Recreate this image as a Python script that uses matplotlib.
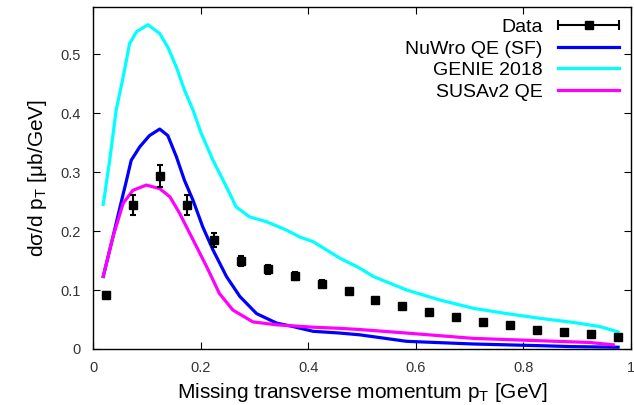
import matplotlib
matplotlib.use("Agg")
import matplotlib.pyplot as plt
from matplotlib.lines import Line2D
from matplotlib.legend_handler import HandlerLine2D, HandlerTuple

plt.rcParams["font.family"] = ["Liberation Sans", "DejaVu Sans"]
plt.rcParams["mathtext.fontset"] = "custom"
plt.rcParams["mathtext.rm"] = "Liberation Sans"
plt.rcParams["mathtext.it"] = "Liberation Sans"

# Measured data (bin centres, cross section, error)
data_x = [0.025, 0.075, 0.125, 0.175, 0.225, 0.275, 0.325, 0.375, 0.425, 0.475,
          0.525, 0.575, 0.625, 0.675, 0.725, 0.775, 0.825, 0.875, 0.925, 0.975]
data_y = [0.092, 0.245, 0.293, 0.245, 0.185, 0.149, 0.135, 0.124, 0.111, 0.098,
          0.083, 0.073, 0.063, 0.054, 0.045, 0.040, 0.033, 0.029, 0.025, 0.021]
data_err = [0.005, 0.017, 0.019, 0.017, 0.012, 0.009, 0.008, 0.007, 0.006, 0.005,
            0.004, 0.004, 0.003, 0.003, 0.003, 0.003, 0.002, 0.002, 0.002, 0.002]

# NuWro QE (SF)
nuwro_x = [0.019, 0.037, 0.050, 0.062, 0.071, 0.087, 0.105, 0.124, 0.139, 0.155,
           0.170, 0.186, 0.204, 0.223, 0.248, 0.273, 0.304, 0.341, 0.372, 0.409,
           0.459, 0.496, 0.583, 0.706, 0.831, 0.892, 0.976]
nuwro_y = [0.123, 0.190, 0.240, 0.285, 0.320, 0.343, 0.362, 0.373, 0.362, 0.326,
           0.286, 0.252, 0.207, 0.168, 0.123, 0.089, 0.060, 0.044, 0.038, 0.030,
           0.027, 0.024, 0.013, 0.0085, 0.0056, 0.004, 0.003]

# GENIE 2018
genie_x = [0.019, 0.031, 0.043, 0.056, 0.068, 0.081, 0.102, 0.124, 0.139, 0.155,
           0.170, 0.186, 0.201, 0.223, 0.248, 0.266, 0.291, 0.322, 0.359, 0.384,
           0.409, 0.459, 0.496, 0.521, 0.583, 0.645, 0.707, 0.769, 0.831, 0.893,
           0.942, 0.976]
genie_y = [0.245, 0.320, 0.405, 0.461, 0.518, 0.538, 0.550, 0.535, 0.512, 0.478,
           0.439, 0.405, 0.366, 0.320, 0.275, 0.241, 0.224, 0.216, 0.202, 0.190,
           0.182, 0.154, 0.137, 0.123, 0.100, 0.083, 0.069, 0.060, 0.052, 0.045,
           0.038, 0.029]

# SUSAv2 QE
susa_x = [0.019, 0.037, 0.056, 0.074, 0.099, 0.124, 0.143, 0.161, 0.186, 0.211,
          0.235, 0.260, 0.297, 0.341, 0.409, 0.459, 0.496, 0.583, 0.707, 0.831,
          0.924, 0.967]
susa_y = [0.123, 0.190, 0.247, 0.269, 0.278, 0.272, 0.258, 0.230, 0.185, 0.140,
          0.094, 0.066, 0.046, 0.041, 0.037, 0.035, 0.033, 0.027, 0.018, 0.014,
          0.011, 0.007]

xticks = [0, 0.2, 0.4, 0.6, 0.8, 1]
xtick_labels = ["0", "0.2", "0.4", "0.6", "0.8", "1"]
yticks = [0, 0.1, 0.2, 0.3, 0.4, 0.5]
ytick_labels = ["0", "0.1", "0.2", "0.3", "0.4", "0.5"]

fig = plt.figure(figsize=(6.34, 4.05), dpi=100)
ax = fig.add_axes([0.1467, 0.1383, 0.8486, 0.8444])

lw = 2.3
ax.plot(nuwro_x, nuwro_y, color="#0000ff", lw=lw)
ax.plot(genie_x, genie_y, color="#00ffff", lw=lw)
ax.plot(susa_x, susa_y, color="#ff00ff", lw=lw)
ax.errorbar(data_x, data_y, yerr=data_err, fmt="s", color="black", ms=5.5,
            elinewidth=1.5, capsize=2.5, capthick=1.5, zorder=5)

ax.set_xlim(0, 1)
ax.set_ylim(0, 0.58)
ax.set_xticks(xticks)
ax.set_xticklabels(xtick_labels)
ax.set_yticks(yticks)
ax.set_yticklabels(ytick_labels)
ax.tick_params(direction="in", top=True, right=True, length=5, width=0.8,
               labelsize=10.5, labelcolor="#333333", pad=9)
for spine in ax.spines.values():
    spine.set_linewidth(1.0)

ax.set_xlabel("Missing transverse momentum p$_\\mathrm{T}$ [GeV]", fontsize=15, labelpad=4)
ax.set_ylabel("dσ/d p$_\\mathrm{T}$ [μb/GeV]", fontsize=15, labelpad=8)

# Legend: gnuplot-style keys with text on the left
data_bar = Line2D([], [], color="black", lw=1.5, marker="|", ms=7, mew=1.5)
data_sq = Line2D([], [], color="black", lw=0, marker="s", ms=5.5)
handles = [
    (data_bar, data_sq),
    Line2D([], [], color="#0000ff", lw=lw),
    Line2D([], [], color="#00ffff", lw=lw),
    Line2D([], [], color="#ff00ff", lw=lw),
]
labels = ["Data", "NuWro QE (SF)", "GENIE 2018", "SUSAv2 QE"]
ax.legend(handles, labels, loc="upper right", bbox_to_anchor=(1.0, 1.0),
          frameon=False, markerfirst=False, fontsize=14, handlelength=3.15,
          handletextpad=0.8, labelspacing=0.2, borderaxespad=0.3, borderpad=0.3,
          handler_map={
              tuple: HandlerTuple(ndivide=1),
              data_bar: HandlerLine2D(numpoints=2, marker_pad=0),
              data_sq: HandlerLine2D(numpoints=1),
          })
for t in ax.get_legend().get_texts():
    t.set_ha("right")

fig.savefig("out.png", dpi=100)
